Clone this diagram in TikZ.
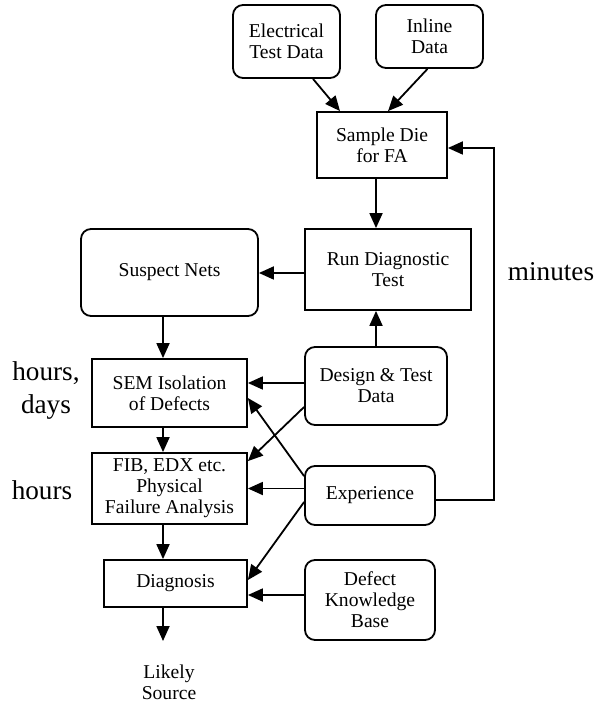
\documentclass[tikz,border=0pt]{standalone}
\usepackage{fontspec}
\setmainfont{Liberation Serif}
\usetikzlibrary{arrows.meta}
\tikzset{
  box/.style={draw, line width=0.9pt, align=center, inner sep=0pt,
    font=\fontsize{9.8}{10.5}\selectfont},
  rbox/.style={box, rounded corners=5pt},
  arr/.style={line width=0.9pt, -{Triangle[length=7.5pt,width=6.5pt]}},
  timetag/.style={align=center, font=\fontsize{13.6}{16.5}\selectfont}
}
\begin{document}
\begin{tikzpicture}[x=0.5pt, y=-0.5pt]
  \useasboundingbox (0,0) rectangle (597,704);
  % Cajas
  \node[rbox, minimum width=53.5pt, minimum height=36.5pt] (elec) at (286.5,41.5) {Electrical\\Test Data};
  \node[rbox, minimum width=53.5pt, minimum height=31.5pt] (inline) at (429.5,36.5) {Inline\\Data};
  \node[box, minimum width=65pt, minimum height=33pt] (sample) at (382,145) {Sample Die\\for FA};
  \node[box, minimum width=83pt, minimum height=40.5pt] (rundiag) at (388,269.5) {Run Diagnostic\\Test};
  \node[rbox, minimum width=88.5pt, minimum height=43.5pt] (suspect) at (169.5,272.5) {Suspect Nets};
  \node[box, minimum width=77.5pt, minimum height=34pt] (sem) at (169.5,393) {SEM Isolation\\of Defects};
  \node[rbox, minimum width=71pt, minimum height=39pt] (design) at (376,386) {Design \& Test\\Data};
  \node[box, minimum width=77.5pt, minimum height=35.5pt] (fib) at (169.5,488.5) {FIB, EDX etc.\\Physical\\Failure Analysis};
  \node[rbox, minimum width=65pt, minimum height=29.5pt] (exper) at (370,495.5) {Experience};
  \node[box, minimum width=71.5pt, minimum height=23.5pt] (diag) at (175.5,583.5) {Diagnosis};
  \node[rbox, minimum width=65pt, minimum height=40pt] (dkb) at (370,600) {Defect\\Knowledge\\Base};
  \node[box, draw=none] (likely) at (169,682) {Likely\\Source};
  % Tiempos
  \node[timetag] (tsem) at (46,390) {hours,\\days};
  \node[timetag] (tfib) at (42,490) {hours};
  \node[timetag] (tmin) at (551,272) {minutes};
  % Flechas
  \coordinate (spine) at (163,0);
  \coordinate (out) at (163,641);
  \draw[arr] ([xshift=13.25pt]elec.south) -- ([xshift=-21pt]sample.north);
  \draw[arr] ([xshift=-1pt]inline.south) -- ([xshift=3pt]sample.north);
  \draw[arr] (sample.south -| design.north) -- (rundiag.north -| design.north);
  \draw[arr] (design.north) -- (design.north |- rundiag.south);
  \draw[arr] ([yshift=-1.75pt]rundiag.west) -- ([yshift=-1.75pt]rundiag.west -| suspect.east);
  \draw[arr] (suspect.south -| spine) -- (sem.north -| spine);
  \draw[arr] (sem.south -| spine) -- (fib.north -| spine);
  \draw[arr] (fib.south -| spine) -- (diag.north -| spine);
  \draw[arr] (diag.south -| spine) -- (out);
  \draw[arr] ([yshift=1.5pt]design.west) -- ([yshift=1.5pt]design.west -| sem.east);
  \draw[arr] (exper.west |- fib.east) -- (fib.east);
  \draw[arr] ([yshift=2.5pt]dkb.west) -- ([yshift=2.5pt]dkb.west -| diag.east);
  \draw[arr] ([yshift=-5.5pt]exper.north west) -- ([yshift=-2.5pt]sem.east);
  \draw[arr] ([yshift=-10.5pt]design.west) -- ([yshift=-4.5pt]fib.north east);
  \draw[arr] ([yshift=-3.25pt]exper.west) -- ([yshift=1.75pt]diag.east);
  % Realimentacion
  \draw[arr] ([yshift=-2.25pt]exper.east) -| ([xshift=23pt,yshift=-1.5pt]sample.east) -- ([yshift=-1.5pt]sample.east);
\end{tikzpicture}
\end{document}
